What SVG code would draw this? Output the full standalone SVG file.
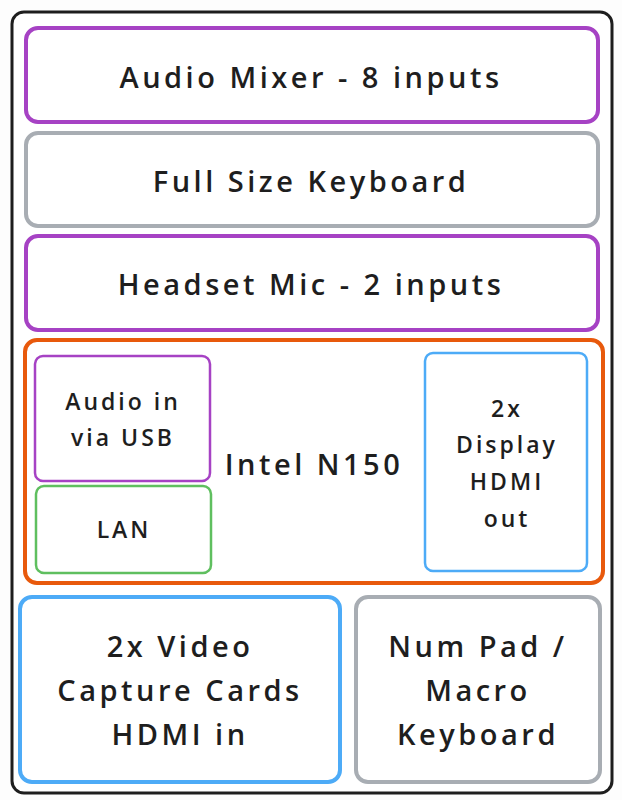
<svg xmlns="http://www.w3.org/2000/svg" width="622" height="800" viewBox="0 0 622 800">
<style>
text{font-family:"Open Sans","Liberation Sans",sans-serif;fill:#1e1e1e;text-anchor:middle;dominant-baseline:central;font-weight:600}
.big{font-size:29px;letter-spacing:3.5px}
.sm{font-size:23px;letter-spacing:3px}
rect{fill:none;stroke-linejoin:round}
.pur{stroke:#a642c4}
.gry{stroke:#a8adb3}
.org{stroke:#e8590c}
.blu{stroke:#4dabf7}
.grn{stroke:#5fbf5f}
</style>
<rect width="622" height="800" style="fill:#fdfdfd"/>
<g id="frame"><rect x="12" y="12" width="600" height="781" rx="12" stroke="#1e1e1e" stroke-width="3" style="fill:#fff"/></g>
<g id="mixer"><rect class="pur" x="26" y="28" width="572" height="94" rx="12" stroke-width="4"/><text class="big" x="311" y="76">Audio Mixer - 8 inputs</text></g>
<g id="keyboard"><rect class="gry" x="26" y="133" width="572" height="93" rx="12" stroke-width="4"/><text class="big" x="311" y="180">Full Size Keyboard</text></g>
<g id="headset"><rect class="pur" x="26" y="236" width="572" height="94" rx="12" stroke-width="4"/><text class="big" x="311" y="283">Headset Mic - 2 inputs</text></g>
<g id="intel"><rect class="org" x="25" y="340" width="578" height="243" rx="12" stroke-width="4"/><text class="big" x="314" y="463">Intel N150</text></g>
<g id="audioin"><rect class="pur" x="35" y="356" width="175" height="125" rx="8" stroke-width="2.5"/><text class="sm" x="123" y="401">Audio in</text><text class="sm" x="123" y="437">via USB</text></g>
<g id="lan"><rect class="grn" x="36" y="486" width="175" height="87" rx="8" stroke-width="2.5"/><text class="sm" x="124" y="529">LAN</text></g>
<g id="display"><rect class="blu" x="425" y="353" width="162" height="218" rx="8" stroke-width="2.5"/><text class="sm" x="507" y="408">2x</text><text class="sm" x="507" y="444">Display</text><text class="sm" x="507" y="481">HDMI</text><text class="sm" x="507" y="518">out</text></g>
<g id="capture"><rect class="blu" x="20" y="597" width="320" height="185" rx="12" stroke-width="4"/><text class="big" x="180" y="645">2x Video</text><text class="big" x="180" y="689">Capture Cards</text><text class="big" x="180" y="733">HDMI in</text></g>
<g id="numpad"><rect class="gry" x="356" y="597" width="244" height="185" rx="12" stroke-width="4"/><text class="big" x="478" y="645">Num Pad /</text><text class="big" x="478" y="689">Macro</text><text class="big" x="478" y="733">Keyboard</text></g>
<g id="connectors"></g>
</svg>
